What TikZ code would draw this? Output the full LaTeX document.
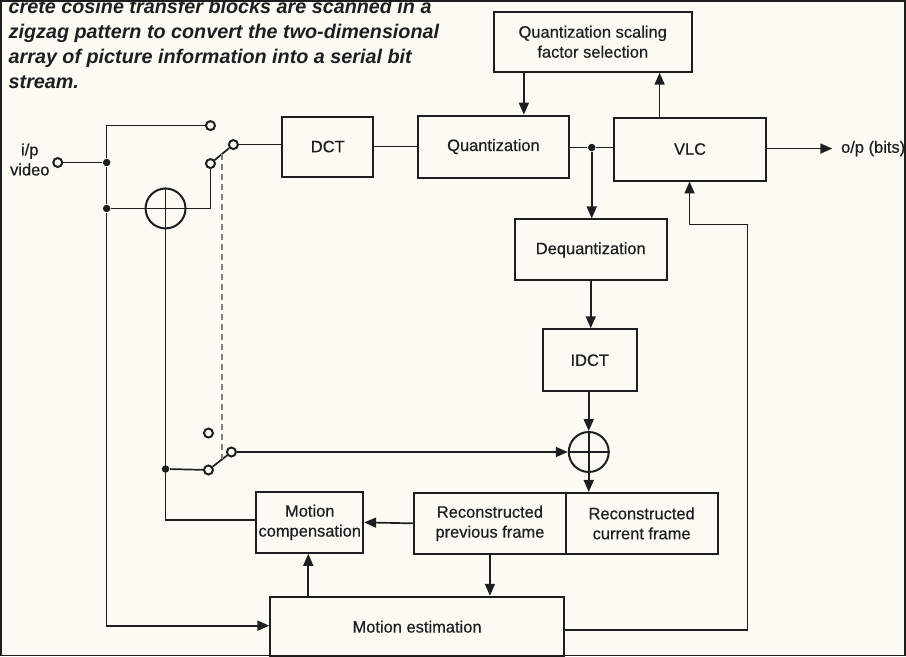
\documentclass[tikz,border=0pt]{standalone}
\usepackage{fontspec}
\setmainfont{Liberation Sans}
\newfontfamily\diagfont{Liberation Sans}[FakeBold=0.5]
\usetikzlibrary{arrows.meta,calc}
\definecolor{bg}{RGB}{251,251,243}
\definecolor{ink}{RGB}{30,30,30}
\begin{document}
\begin{tikzpicture}[x=1pt,y=-1pt,line width=1.7pt,
  every path/.style={draw=ink},
  blk/.style={draw=ink,line width=2pt,align=center,inner sep=0pt,text=ink,
    font=\diagfont\fontsize{16.5}{20}\selectfont},
  txt/.style={text=ink,align=center,inner sep=0pt,font=\diagfont\fontsize{16.5}{20}\selectfont},
  captxt/.style={anchor=base west,inner sep=0pt,text=ink,
    font=\fontsize{19.8}{25}\selectfont\bfseries\itshape},
  term/.style={circle,draw=ink,fill=bg,line width=2pt,inner sep=0pt,minimum size=9pt},
  jdot/.style={circle,fill=ink,draw=none,inner sep=0pt,minimum size=7.5pt},
  summer/.style={circle,draw=ink,line width=2pt,minimum size=40pt,inner sep=0pt},
  arr/.style={-{Triangle[length=12pt,width=10pt]}},
  linkdash/.style={draw=gray,line width=1.3pt,dash pattern=on 6pt off 4pt}]
\fill[bg,draw=none] (0,0) rectangle (906,656);
\useasboundingbox (0,0) rectangle (906,656);

% caption
\node[captxt] (cap1) at (7,13) {crete cosine transfer blocks are scanned in a};
\node[captxt] (cap2) at (7,38) {zigzag pattern to convert the two-dimensional};
\node[captxt] (cap3) at (7,63) {array of picture information into a serial bit};
\node[captxt] (cap4) at (7,88) {stream.};

% blocks
\node[blk,minimum width=91pt,minimum height=60pt] (dct) at (327.5,146) {DCT};
\node[blk,minimum width=151pt,minimum height=62pt] (quant) at (493.5,146) {Quantization};
\node[blk,minimum width=153pt,minimum height=63pt] (vlc) at (690.5,148.5) {VLC};
\node[blk,minimum width=198pt,minimum height=60pt] (qsf) at (593,41) {Quantization scaling\\factor selection};
\node[blk,minimum width=152pt,minimum height=61pt] (deq) at (591,249.5) {Dequantization};
\node[blk,minimum width=94pt,minimum height=62pt] (idct) at (590,360) {IDCT};
\node[summer] (a2) at (589,452) {};
\node[blk,minimum width=152pt,minimum height=61pt] (rprev) at (490,523.5) {Reconstructed\\previous frame};
\node[blk,minimum width=152pt,minimum height=61pt] (rcur) at (642,523.5) {Reconstructed\\current frame};
\node[blk,minimum width=107pt,minimum height=61pt] (mc) at (309.5,522.5) {Motion\\compensation};
\node[blk,minimum width=294pt,minimum height=60pt] (me) at (417,627) {Motion estimation};
\node[summer] (a1) at (165,208) {};
\node[txt] (inlab) at (29,159) {i/p\\video};
\node[txt,anchor=west,inner sep=0pt] (out) at (841,148) {o/p (bits)};

% helper coordinates
\coordinate (x524) at (524,0);
\coordinate (x660) at (660,0);
\coordinate (x490) at (490,0);
\coordinate (x308) at (308,0);
\coordinate (c1) at (748,224);
\coordinate (c2) at (690,224);
\coordinate (y630) at (0,630);
\coordinate (y626) at (0,626);
\coordinate (y520) at (0,520);
\coordinate (outtip) at (833,148);

% terminals and dots
\node[term] (tin) at (57,162) {};
\node[term] (t1) at (210,125) {};
\node[term] (t2) at (210,163) {};
\node[term] (p1) at (233,144) {};
\node[term] (t3) at (208,433) {};
\node[term] (t4) at (208,470) {};
\node[term] (p2) at (231,452) {};
\node[jdot] (j1) at (106,162) {};
\node[jdot] (j2) at (106,208) {};
\node[jdot] (j3) at (592,147) {};
\node[jdot] (j4) at (165,469) {};

% adder crosses
\draw (a1.north) -- (a1.south) (a1.west) -- (a1.east);
\draw (a2.north) -- (a2.south) (a2.west) -- (a2.east);

% connectors
\draw (tin) -- (j1);
\draw (j1) |- (t1);
\draw (j1) -- (j2);
\draw (j2) -- (a1);
\draw (a1.east) -| (t2);
\draw (t2) -- (p1);
\draw (p1) -- (p1 -| dct.west);
\draw (dct) -- (quant);
\draw (quant.east |- j3) -- (j3) -- (j3 -| vlc.west);
\draw[arr] (j3) -- (j3 |- deq.north);
\draw[arr] (x524 |- qsf.south) -- (x524 |- quant.north);
\draw[arr] (x660 |- vlc.north) -- (x660 |- qsf.south);
\draw[arr] (vlc.east |- outtip) -- (outtip);
\draw[arr] (deq.south) -- (deq.south |- idct.north);
\draw[arr] (idct.south -| a2) -- (a2.north);
\draw[arr] (a2.south) -- (a2.south |- rcur.north);
\draw[arr] (rprev.west) -- (mc.east);
\draw[arr] (x490 |- rprev.south) -- (x490 |- me.north);
\draw[arr] (x308 |- me.north) -- (x308 |- mc.south);
\draw[arr] (me.east |- y630) -| (c1) -- (c2) -- (c2 |- vlc.south);
\draw[arr] (j2) |- (me.west |- y626);
\draw (a1.south) |- (mc.west |- y520);
\draw (j4) -- (t4);
\draw (t4) -- (p2);
\draw[arr] (p2) -- (a2.west);

% mechanical link of the two switches
\coordinate (d1) at ($(t2)!0.5!(p1)$);
\coordinate (d2) at ($(t4)!0.55!(p2)$);
\draw[linkdash] (d1) -- (d1 |- d2);
\end{tikzpicture}
\end{document}
